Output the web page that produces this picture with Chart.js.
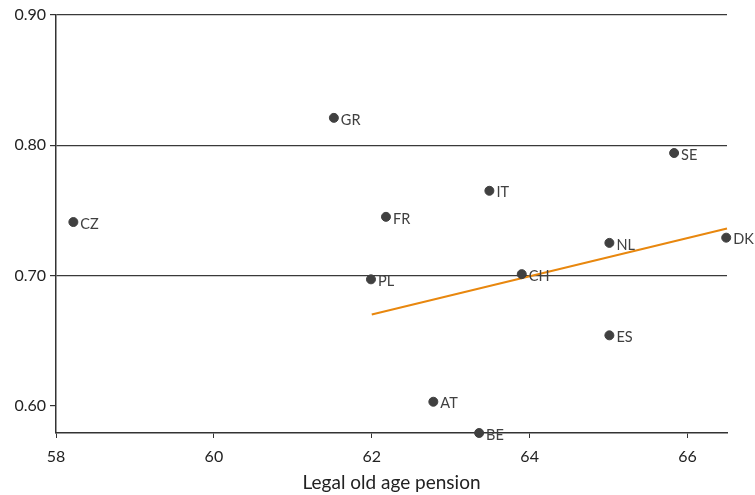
<!DOCTYPE html>
<html>
<head>
<meta charset="utf-8">
<script src="https://cdn.jsdelivr.net/npm/chart.js@4/dist/chart.umd.min.js"></script>
<style>
  html, body { margin: 0; padding: 0; background: #ffffff; }
  #wrap { width: 755px; height: 495px; }
</style>
</head>
<body>
<div id="wrap"><canvas id="c" width="755" height="495"></canvas></div>
<script>
const countries = ['CZ','GR','IT','FR','PL','CH','SE','NL','DK','ES','AT','BE'];
const pensionAge = [58.22, 61.52, 63.49, 62.18, 61.99, 63.9, 65.83, 65.01, 66.49, 65.01, 62.78, 63.36];
const values = [0.741, 0.821, 0.765, 0.745, 0.697, 0.701, 0.794, 0.725, 0.729, 0.654, 0.603, 0.579];
const trendX = [62.0, 66.5];
const trendY = [0.670, 0.736];
const xTicks = [58, 60, 62, 64, 66];
const yTicks = [0.60, 0.70, 0.80, 0.90];

const FONT = 'Lato, "Open Sans", sans-serif';

const labelPlugin = {
  id: 'pointLabels',
  afterDatasetsDraw(chart) {
    const meta = chart.getDatasetMeta(0);
    const ctx = chart.ctx;
    ctx.save();
    ctx.font = '14.5px ' + FONT;
    ctx.fillStyle = '#404040';
    ctx.textAlign = 'left';
    ctx.textBaseline = 'middle';
    meta.data.forEach((pt, i) => {
      ctx.fillText(countries[i], pt.x + 7, pt.y + 2);
    });
    ctx.restore();
  }
};

new Chart(document.getElementById('c'), {
  type: 'scatter',
  data: {
    datasets: [
      {
        label: 'Countries',
        data: pensionAge.map((x, i) => ({ x: x, y: values[i] })),
        backgroundColor: '#404040',
        borderColor: '#404040',
        pointRadius: 4.5,
        pointHoverRadius: 4.5,
        clip: false
      },
      {
        label: 'Trend',
        data: trendX.map((x, i) => ({ x: x, y: trendY[i] })),
        showLine: true,
        borderColor: '#E8870E',
        borderWidth: 2,
        pointRadius: 0,
        clip: false
      }
    ]
  },
  options: {
    responsive: false,
    animation: false,
    layout: { padding: { top: 15, right: 28, left: 0, bottom: 0 } },
    plugins: { legend: { display: false }, tooltip: { enabled: false } },
    scales: {
      x: {
        type: 'linear',
        min: 58,
        max: 66.5,
        afterBuildTicks: s => { s.ticks = xTicks.map(v => ({ value: v })); },
        afterFit: s => { s.height = 62; },
        grid: { drawOnChartArea: false, drawTicks: true, tickLength: 5, color: '#333333', tickColor: '#333333' },
        border: { display: true, color: '#333333', width: 1.5 },
        ticks: { color: '#222222', font: { family: FONT, size: 16 }, padding: 9, callback: v => String(v) },
        title: { display: true, text: 'Legal old age pension', color: '#222222', font: { family: FONT, size: 19 }, padding: { top: 0, bottom: 1 } }
      },
      y: {
        type: 'linear',
        min: 0.579,
        max: 0.9,
        afterBuildTicks: s => { s.ticks = yTicks.map(v => ({ value: v })); },
        afterFit: s => { s.width = 56; },
        grid: {
          drawTicks: true,
          tickLength: 6,
          color: ctx => (ctx.tick && Math.abs(ctx.tick.value - 0.6) < 1e-6) ? 'rgba(0,0,0,0)' : '#3a3a3a',
          tickColor: '#333333',
          lineWidth: 1.2
        },
        border: { display: true, color: '#333333', width: 1.5 },
        ticks: { color: '#222222', font: { family: FONT, size: 16 }, padding: 4, callback: v => Number(v).toFixed(2) }
      }
    }
  },
  plugins: [labelPlugin]
});
</script>
</body>
</html>
